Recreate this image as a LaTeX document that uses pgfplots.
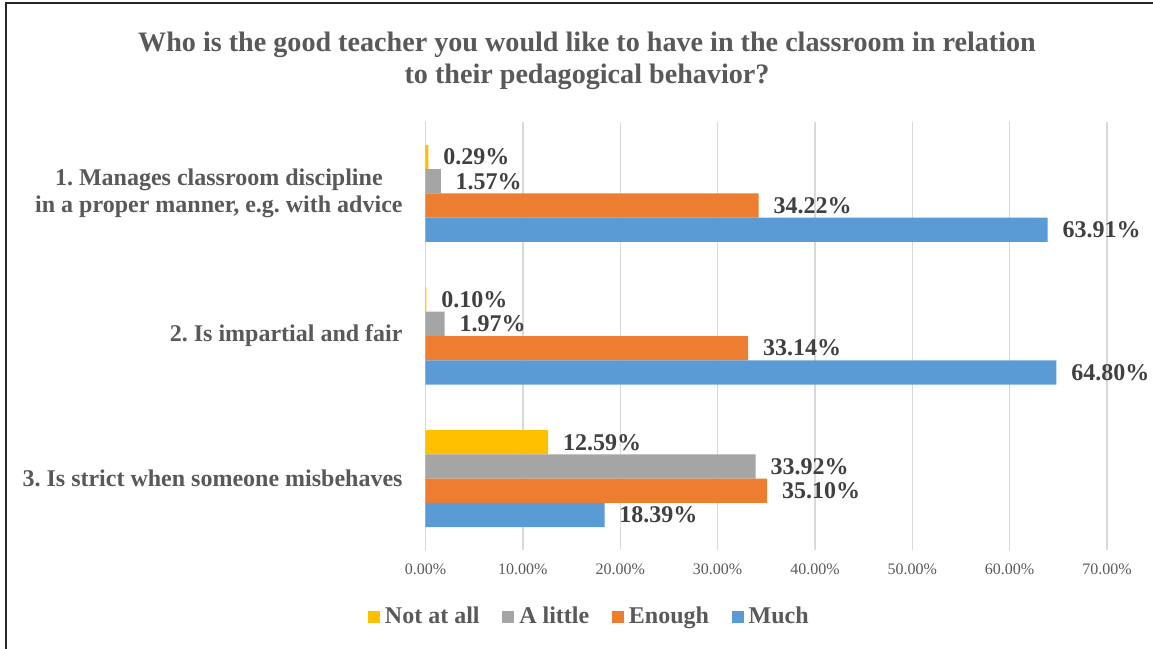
\documentclass[border=0pt]{standalone}
\usepackage{fontspec}
\setmainfont{Liberation Serif}
\usepackage{pgfplots}
\pgfplotsset{compat=1.18}

\definecolor{YEL}{RGB}{255,192,0}
\definecolor{GRY}{RGB}{165,165,165}
\definecolor{ORA}{RGB}{237,125,49}
\definecolor{BLU}{RGB}{91,155,213}
\definecolor{TXT}{RGB}{89,89,89}
\definecolor{LAB}{RGB}{64,64,64}
\definecolor{GRID}{RGB}{217,217,217}

\pgfplotsset{sqleg/.style={legend image code/.code={\fill[##1,draw=none] (0pt,-4.5pt) rectangle (9pt,4.5pt);}}}

\begin{document}
\frenchspacing
\begin{tikzpicture}
\useasboundingbox (0,0) rectangle (864.75pt,486.75pt);
\draw[line width=1.5pt, black!85] (4.5pt,0) -- (4.5pt,484.5pt) -- (864.75pt,484.5pt);
\node[anchor=base, text=TXT, font=\bfseries\fontsize{21.1}{24}\selectfont] at (440.25pt,447.75pt)
  {Who is the good teacher you would like to have in the classroom in relation};
\node[anchor=base, text=TXT, font=\bfseries\fontsize{21.1}{24}\selectfont] at (440.25pt,423.75pt)
  {to their pedagogical behavior?};
\begin{axis}[
  at={(319.125pt,74.25pt)}, anchor=south west,
  scale only axis, width=511.125pt, height=321pt,
  xbar, bar width=18.2pt,
  xmin=0, xmax=70, ymin=-0.5, ymax=2.5, y dir=reverse,
  ytick={0,1,2},
  yticklabels={{1. Manages classroom discipline\\in a proper manner, e.g. with advice},
               {2. Is impartial and fair},
               {3. Is strict when someone misbehaves}},
  yticklabel style={align=center, inner sep=0pt, xshift=-17pt, text=TXT,
                    font=\bfseries\fontsize{18}{20.5}\selectfont},
  xtick={0,10,...,70},
  xticklabel={\pgfmathprintnumber[fixed,fixed zerofill,precision=2,assume math mode=true]{\tick}\%},
  xticklabel style={inner sep=0pt, yshift=-10.5pt, text=TXT, font=\fontsize{12}{14}\selectfont},
  xmajorgrids, grid style={draw=GRID, line width=1pt},
  axis line style={draw=none}, major tick length=0pt, tick style={draw=none},
  clip=false,
  point meta=x,
  nodes near coords={\pgfmathprintnumber[fixed,fixed zerofill,precision=2,assume math mode=true]{\pgfplotspointmeta}\%},
  every node near coord/.append style={anchor=west, inner sep=0pt, xshift=11pt, text=LAB,
                    font=\bfseries\fontsize{18}{20}\selectfont},
  legend columns=-1,
  legend style={at={(-0.0844,-0.1554)}, anchor=west, draw=none, fill=none,
                inner sep=0pt, outer sep=0pt,
                /tikz/every odd column/.append style={column sep=3.75pt},
                /tikz/every even column/.append style={column sep=17pt},
                nodes={inner sep=0pt, text=TXT, font=\bfseries\fontsize{18}{20}\selectfont}},
]
\addplot[xbar, fill=YEL, draw=none, bar shift=27.3pt, sqleg] coordinates {(0.29,0) (0.10,1) (12.59,2)};
\addplot[xbar, fill=GRY, draw=none, bar shift=9.1pt, sqleg] coordinates {(1.57,0) (1.97,1) (33.92,2)};
\addplot[xbar, fill=ORA, draw=none, bar shift=-9.1pt, sqleg] coordinates {(34.22,0) (33.14,1) (35.10,2)};
\addplot[xbar, fill=BLU, draw=none, bar shift=-27.3pt, sqleg] coordinates {(63.91,0) (64.80,1) (18.39,2)};
\legend{Not at all, A little, Enough, Much}
\end{axis}
\end{tikzpicture}
\end{document}
